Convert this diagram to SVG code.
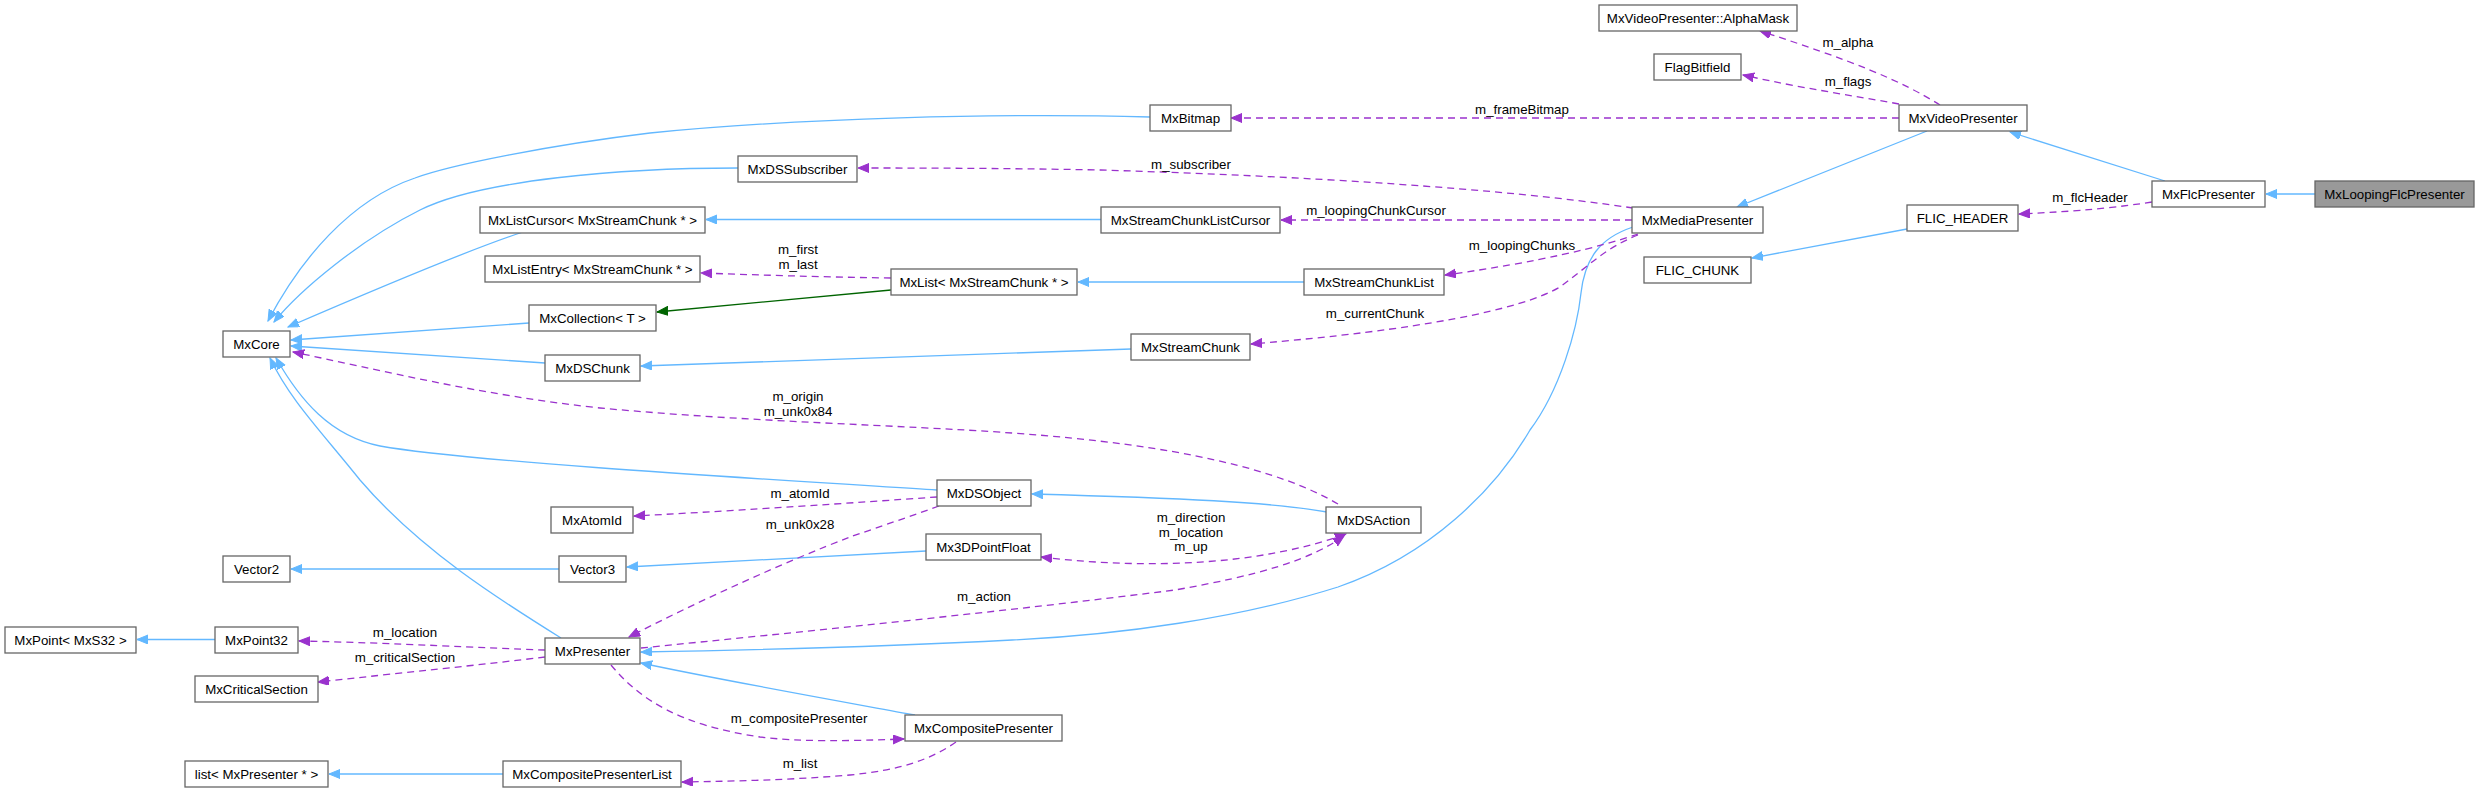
<svg xmlns="http://www.w3.org/2000/svg" width="2479" height="792" viewBox="0 0 2479 792">
<style>
.n rect{fill:#fff;stroke:#666;stroke-width:1.3}
.n.root rect{fill:#999}
.n text{font-family:"Liberation Sans",Arial,sans-serif;font-size:13.3px;text-anchor:middle;fill:#000}
.lbl{font-family:"Liberation Sans",Arial,sans-serif;font-size:13.3px;text-anchor:middle;fill:#000}
.inh{fill:none;stroke:#63b8ff;stroke-width:1.3;marker-end:url(#ab)}
.tpl{fill:none;stroke:#006400;stroke-width:1.3;marker-end:url(#ag)}
.use{fill:none;stroke:#9a32cd;stroke-width:1.3;stroke-dasharray:7,5;marker-end:url(#ap)}
</style>
<defs>
<marker id="ab" markerWidth="12" markerHeight="10" refX="11" refY="4.5" orient="auto" markerUnits="userSpaceOnUse"><path d="M0,0 L11,4.5 L0,9 z" fill="#63b8ff" stroke="#63b8ff"/></marker>
<marker id="ag" markerWidth="12" markerHeight="10" refX="11" refY="4.5" orient="auto" markerUnits="userSpaceOnUse"><path d="M0,0 L11,4.5 L0,9 z" fill="#006400" stroke="#006400"/></marker>
<marker id="ap" markerWidth="12" markerHeight="10" refX="11" refY="4.5" orient="auto-start-reverse" markerUnits="userSpaceOnUse"><path d="M0,0 L11,4.5 L0,9 z" fill="#9a32cd" stroke="#9a32cd"/></marker>
</defs>
<rect width="2479" height="792" fill="#fff"/>
<g id="edges">
<path class="inh" d="M2315,194 L2266,194"/>
<path class="inh" d="M2165,181 L2010,132"/>
<path class="inh" d="M1927,131 L1737,207"/>
<path class="inh" d="M1633,227 C1600,238 1585,258 1581,293 C1577,330 1560,390 1530,430 C1495,490 1430,555 1338,587 C1240,618 1120,635 1012,640 C900,646 760,650 641,652"/>
<path class="inh" d="M561,638 C500,600 420,550 360,480 C320,430 290,400 270,358"/>
<path class="inh" d="M937,490 C780,480 470,462 380,446 C330,436 300,400 276,358"/>
<path class="inh" d="M738,168 C620,168 480,180 420,210 C360,240 300,290 274,322"/>
<path class="inh" d="M1150,117 C1000,113 800,118 650,133 C550,145 450,165 415,178 C350,200 300,260 268,321"/>
<path class="inh" d="M523,232 C480,246 420,270 288,327"/>
<path class="inh" d="M529,323 L291,340"/>
<path class="inh" d="M545,363 L291,346"/>
<path class="inh" d="M1101,219.5 L706,219.5"/>
<path class="inh" d="M1304,282 L1078,282"/>
<path class="inh" d="M1131,349 L641,366"/>
<path class="tpl" d="M891,290 L657,312"/>
<path class="inh" d="M1327,512 C1270,502 1180,498 1032,494"/>
<path class="inh" d="M926,551 L627,567"/>
<path class="inh" d="M559,569 L291,569"/>
<path class="inh" d="M215,639.5 L137,639.5"/>
<path class="inh" d="M915,715 C850,703 720,680 641,663"/>
<path class="inh" d="M503,774 L329,774"/>
<path class="inh" d="M1907,229 L1752,258"/>

<path class="use" d="M1940,105 C1900,80 1850,60 1760,31"/>
<path class="use" d="M1899,104 C1850,95 1800,88 1743,75"/>
<path class="use" d="M1899,118 L1231,118"/>
<path class="use" d="M1633,208 C1500,188 1300,176 1100,170 C1000,168 900,168 858,168"/>
<path class="use" d="M1632,220 L1281,220"/>
<path class="use" d="M1638,234 C1600,247 1540,262 1445,275"/>
<path class="use" d="M1638,235 C1605,248 1590,265 1560,287 C1520,310 1420,330 1251,344"/>
<path class="use" d="M2152,202 C2100,210 2060,212 2019,214"/>
<path class="use" d="M891,278 C820,277 760,275 701,273"/>
<path class="use" d="M1338,504 C1280,470 1180,445 1012,433 C900,425 750,422 600,408 C480,395 380,370 293,352"/>
<path class="use" d="M937,497 C850,503 750,510 634,516"/>
<path class="use" d="M939,506 C900,520 870,530 850,537 C790,560 700,600 629,637"/>
<path class="use" style="marker-start:url(#ap)" d="M1041,557 C1150,570 1260,565 1346,534"/>
<path class="use" d="M641,648 C800,632 1000,612 1175,590 C1260,575 1310,560 1344,536"/>
<path class="use" d="M611,665 C640,700 680,725 760,737 C800,742 850,741 904,739"/>
<path class="use" d="M956,742 C930,760 900,770 850,775 C790,780 740,781 682,782"/>
<path class="use" d="M545,650 C480,648 400,643 299,641"/>
<path class="use" d="M545,657 C480,665 400,673 318,682"/>

<text class="lbl" x="1848" y="47">m_alpha</text>
<text class="lbl" x="1848" y="86">m_flags</text>
<text class="lbl" x="1522" y="114">m_frameBitmap</text>
<text class="lbl" x="1191" y="169">m_subscriber</text>
<text class="lbl" x="1376" y="215">m_loopingChunkCursor</text>
<text class="lbl" x="1522" y="250">m_loopingChunks</text>
<text class="lbl" x="1375" y="318">m_currentChunk</text>
<text class="lbl" x="2090" y="202">m_flcHeader</text>
<text class="lbl" x="798" y="254">m_first</text>
<text class="lbl" x="798" y="269">m_last</text>
<text class="lbl" x="798" y="401">m_origin</text>
<text class="lbl" x="798" y="416">m_unk0x84</text>
<text class="lbl" x="800" y="498">m_atomId</text>
<text class="lbl" x="800" y="529">m_unk0x28</text>
<text class="lbl" x="1191" y="522">m_direction</text>
<text class="lbl" x="1191" y="537">m_location</text>
<text class="lbl" x="1191" y="551">m_up</text>
<text class="lbl" x="984" y="601">m_action</text>
<text class="lbl" x="799" y="723">m_compositePresenter</text>
<text class="lbl" x="800" y="768">m_list</text>
<text class="lbl" x="405" y="637">m_location</text>
<text class="lbl" x="405" y="662">m_criticalSection</text>
</g>

<g id="MxLoopingFlcPresenter" class="n root"><rect x="2315" y="181" width="159" height="26"/><text x="2394.5" y="198.5">MxLoopingFlcPresenter</text></g>
<g id="MxFlcPresenter" class="n"><rect x="2152" y="181" width="113" height="26"/><text x="2208.5" y="198.5">MxFlcPresenter</text></g>
<g id="MxVideoPresenter" class="n"><rect x="1899" y="105" width="128" height="26"/><text x="1963" y="122.5">MxVideoPresenter</text></g>
<g id="AlphaMask" class="n"><rect x="1599" y="5" width="198" height="26"/><text x="1698" y="22.5">MxVideoPresenter::AlphaMask</text></g>
<g id="FlagBitfield" class="n"><rect x="1654" y="54" width="87" height="26"/><text x="1697.5" y="71.5">FlagBitfield</text></g>
<g id="MxBitmap" class="n"><rect x="1150" y="105" width="81" height="26"/><text x="1190.5" y="122.5">MxBitmap</text></g>
<g id="MxMediaPresenter" class="n"><rect x="1632" y="207" width="131" height="26"/><text x="1697.5" y="224.5">MxMediaPresenter</text></g>
<g id="FLIC_HEADER" class="n"><rect x="1907" y="205" width="111" height="26"/><text x="1962.5" y="222.5">FLIC_HEADER</text></g>
<g id="FLIC_CHUNK" class="n"><rect x="1644" y="257" width="107" height="26"/><text x="1697.5" y="274.5">FLIC_CHUNK</text></g>
<g id="MxDSSubscriber" class="n"><rect x="738" y="156" width="119" height="26"/><text x="797.5" y="173.5">MxDSSubscriber</text></g>
<g id="MxStreamChunkListCursor" class="n"><rect x="1101" y="207" width="179" height="26"/><text x="1190.5" y="224.5">MxStreamChunkListCursor</text></g>
<g id="MxListCursor" class="n"><rect x="480" y="207" width="225" height="26"/><text x="592.5" y="224.5">MxListCursor&lt; MxStreamChunk * &gt;</text></g>
<g id="MxListEntry" class="n"><rect x="485" y="256" width="215" height="26"/><text x="592.5" y="273.5">MxListEntry&lt; MxStreamChunk * &gt;</text></g>
<g id="MxList" class="n"><rect x="891" y="269" width="186" height="26"/><text x="984" y="286.5">MxList&lt; MxStreamChunk * &gt;</text></g>
<g id="MxStreamChunkList" class="n"><rect x="1304" y="269" width="140" height="26"/><text x="1374" y="286.5">MxStreamChunkList</text></g>
<g id="MxCollection" class="n"><rect x="529" y="305" width="127" height="26"/><text x="592.5" y="322.5">MxCollection&lt; T &gt;</text></g>
<g id="MxStreamChunk" class="n"><rect x="1131" y="334" width="119" height="26"/><text x="1190.5" y="351.5">MxStreamChunk</text></g>
<g id="MxCore" class="n"><rect x="223" y="331" width="67" height="26"/><text x="256.5" y="348.5">MxCore</text></g>
<g id="MxDSChunk" class="n"><rect x="545" y="355" width="95" height="26"/><text x="592.5" y="372.5">MxDSChunk</text></g>
<g id="MxDSObject" class="n"><rect x="937" y="480" width="94" height="26"/><text x="984" y="497.5">MxDSObject</text></g>
<g id="MxAtomId" class="n"><rect x="551" y="507" width="82" height="26"/><text x="592" y="524.5">MxAtomId</text></g>
<g id="MxDSAction" class="n"><rect x="1326" y="507" width="95" height="26"/><text x="1373.5" y="524.5">MxDSAction</text></g>
<g id="Mx3DPointFloat" class="n"><rect x="926" y="534" width="115" height="26"/><text x="983.5" y="551.5">Mx3DPointFloat</text></g>
<g id="Vector2" class="n"><rect x="223" y="556" width="67" height="26"/><text x="256.5" y="573.5">Vector2</text></g>
<g id="Vector3" class="n"><rect x="559" y="556" width="67" height="26"/><text x="592.5" y="573.5">Vector3</text></g>
<g id="MxPointMxS32" class="n"><rect x="5" y="627" width="131" height="26"/><text x="70.5" y="644.5">MxPoint&lt; MxS32 &gt;</text></g>
<g id="MxPoint32" class="n"><rect x="215" y="627" width="83" height="26"/><text x="256.5" y="644.5">MxPoint32</text></g>
<g id="MxPresenter" class="n"><rect x="545" y="638" width="95" height="26"/><text x="592.5" y="655.5">MxPresenter</text></g>
<g id="MxCriticalSection" class="n"><rect x="195" y="676" width="123" height="26"/><text x="256.5" y="693.5">MxCriticalSection</text></g>
<g id="MxCompositePresenter" class="n"><rect x="905" y="715" width="157" height="26"/><text x="983.5" y="732.5">MxCompositePresenter</text></g>
<g id="listMxPresenter" class="n"><rect x="185" y="761" width="143" height="26"/><text x="256.5" y="778.5">list&lt; MxPresenter * &gt;</text></g>
<g id="MxCompositePresenterList" class="n"><rect x="503" y="761" width="178" height="26"/><text x="592" y="778.5">MxCompositePresenterList</text></g>
</svg>
